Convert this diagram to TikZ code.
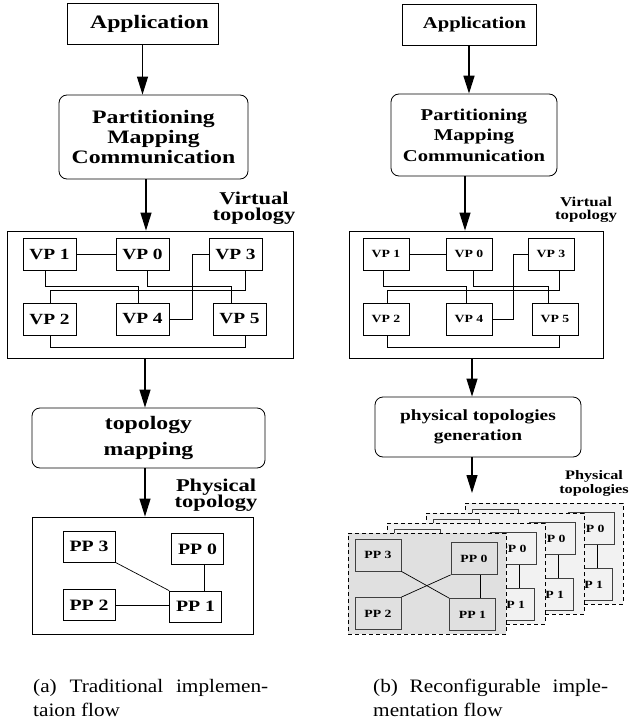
\documentclass[tikz,border=0pt]{standalone}
\usepackage{fontspec}
\setmainfont{Liberation Serif}
\newfontfamily\labfont{Liberation Serif}[FakeStretch=1.25]
\newfontfamily\capfont{Liberation Serif}[FakeStretch=1.12]
\usetikzlibrary{arrows.meta,calc}
\newcommand\lf[2]{\labfont\bfseries\fontsize{#1}{#2}\selectfont}
\newcommand\cf{\capfont\fontsize{19}{24}\selectfont}
\begin{document}
\begin{tikzpicture}[x=1pt,y=-1pt,
  box/.style={draw, line width=0.8pt, inner sep=0pt, align=center},
  rbox/.style={box, rounded corners=8pt},
  lbl/.style={inner sep=0pt, align=center},
  vpl/.style={box, minimum width=53pt, minimum height=32pt, font={\lf{15.5}{16}}},
  vpr/.style={box, minimum width=46pt, minimum height=32pt, font={\lf{11}{12}}},
  ppl/.style={box, minimum width=52pt, minimum height=31pt, font={\lf{15.8}{16}}},
  pps/.style={box, draw=black!75, minimum width=46pt, minimum height=32pt, font={\lf{11}{12}}},
  layer/.style={draw, line width=0.8pt, dash pattern=on 4pt off 3pt, inner sep=0pt, minimum width=158pt, minimum height=101pt},
  ln/.style={line width=0.7pt},
  arr/.style={-{Triangle[length=18pt,width=11pt]}, line width=1.1pt},
  capn/.style={inner sep=0pt, text width=235pt, align=justify, font=\cf, anchor=north west}
]
\useasboundingbox (0,0) rectangle (630,725);

% ---------------- left column ----------------
\node[box, minimum width=151pt, minimum height=41pt, font={\lf{19}{20}}] (appL) at (142.5,23.5) {\hspace*{14pt}Application};
\node[rbox, minimum width=189pt, minimum height=84pt, font={\lf{19}{20}}] (partL) at (153.5,137) {Partitioning\\Mapping\\Communication};
\node[box, minimum width=286pt, minimum height=127pt] (vbL) at (150,294.5) {};
\node[lbl, font={\lf{18}{16.5}}] (vtL) at (254,208) {Virtual\\topology};

\node[vpl] (vpL1) at (49.5,254) {VP 1};
\node[vpl] (vpL0) at (142.5,254) {VP 0};
\node[vpl] (vpL3) at (235.5,254) {VP 3};
\node[vpl] (vpL2) at (49.5,319) {VP 2};
\node[vpl] (vpL4) at (142.5,319) {VP 4};
\node[vpl] (vpL5) at (239.5,319) {VP 5};

\draw[ln] (vpL1) -- (vpL0);
\draw[ln] ([xshift=-4.5pt]vpL1.south) -- ++(0,16) -| ([xshift=-4.5pt]vpL4.north);
\draw[ln] ([xshift=4.5pt]vpL0.south) -- ++(0,16) -| ([xshift=-8pt]vpL5.north);
\draw[ln] ([xshift=0.5pt]vpL2.north) -- ++(0,-12) -| ([xshift=9.5pt]vpL3.south);
\draw[ln] (vpL4.east) -- ++(23,0) |- (vpL3.west);
\draw[ln] ([xshift=0.5pt]vpL2.south) -- ++(0,12) -| ([xshift=5.5pt]vpL5.south);

\node[rbox, minimum width=233pt, minimum height=60pt, font={\lf{19}{26}}] (tmL) at (148.5,438) {topology\\mapping};
\node[lbl, font={\lf{18}{16.5}}] (ptL) at (216,495) {Physical\\topology};
\node[box, minimum width=221pt, minimum height=117pt] (pbL) at (142.5,575.5) {};

\node[ppl] (ppL3) at (89,546.5) {PP 3};
\node[ppl] (ppL0) at (197.5,549) {PP 0};
\node[ppl] (ppL2) at (89,605) {PP 2};
\node[ppl] (ppL1) at (195.5,606.5) {PP 1};
\draw[ln] (ppL3.south east) -- (ppL1.north west);
\draw[ln] ([xshift=6.5pt]ppL0.south) -- ([xshift=6.5pt]ppL0.south |- ppL1.north);
\draw[ln] (ppL2.east) -- (ppL2.east -| ppL1.west);

\draw[arr] (appL.south) -- (appL.south |- partL.north);
\draw[arr] ([xshift=-7.5pt]partL.south) -- ([xshift=-7.5pt]partL.south |- vbL.north);
\draw[arr] ([xshift=-5pt]vbL.south) -- ([xshift=-5pt]vbL.south |- tmL.north);
\draw[arr] ([xshift=-3.5pt]tmL.south) -- ([xshift=-3.5pt]tmL.south |- pbL.north);

\node[capn] (capL) at (33,679) {(a) Traditional implemen-\linebreak taion flow};

% ---------------- right column ----------------
\node[box, minimum width=134pt, minimum height=41pt, font={\lf{16.5}{20}}] (appR) at (469,24.5) {\hspace*{11pt}Application};
\node[rbox, minimum width=166pt, minimum height=82pt, font={\lf{16.5}{20.5}}] (partR) at (474,135) {Partitioning\\Mapping\\Communication};
\node[box, minimum width=254pt, minimum height=127pt] (vbR) at (476,294.5) {};
\node[lbl, font={\lf{13.5}{13.5}}] (vtR) at (586,210) {Virtual\\topology};

\node[vpr] (vpR1) at (386,254) {VP 1};
\node[vpr] (vpR0) at (469,254) {VP 0};
\node[vpr] (vpR3) at (551,254) {VP 3};
\node[vpr] (vpR2) at (386,319) {VP 2};
\node[vpr] (vpR4) at (469,319) {VP 4};
\node[vpr] (vpR5) at (555,319) {VP 5};

\draw[ln] (vpR1) -- (vpR0);
\draw[ln] ([xshift=-3pt]vpR1.south) -- ++(0,16) -| ([xshift=-3pt]vpR4.north);
\draw[ln] ([xshift=4pt]vpR0.south) -- ++(0,16) -| ([xshift=-7pt]vpR5.north);
\draw[ln] ([xshift=1pt]vpR2.north) -- ++(0,-12) -| ([xshift=8pt]vpR3.south);
\draw[ln] (vpR4.east) -- ++(21,0) |- (vpR3.west);
\draw[ln] ([xshift=1pt]vpR2.south) -- ++(0,12) -| ([xshift=4pt]vpR5.south);

\node[rbox, minimum width=206pt, minimum height=60pt, font={\lf{15.5}{20}}] (pgR) at (478,427) {physical topologies\\generation};
\node[lbl, font={\lf{13}{14}}] (ptR) at (594,483) {Physical\\topologies};
\coordinate (endR) at (472,493);

\foreach \k/\c in {3/black!5,2/black!5,1/black!5,0/black!12} {
  \begin{scope}[shift={(39*\k,-10*\k)}]
    \node[layer, fill=\c] (ly\k) at (427,583.5) {};
    \node[pps, fill=\c] (pa\k) at (378,555) {PP 3};
    \node[pps, fill=\c] (pb\k) at (474,558.5) {PP 0};
    \node[pps, fill=\c] (pc\k) at (378,613.5) {PP 2};
    \node[pps, fill=\c] (pd\k) at (472.5,614.5) {PP 1};
    \draw[ln] (pa\k.south east) -- (pd\k.north west);
    \draw[ln] (pc\k.north east) -- (pb\k.south west);
    \draw[ln] ([xshift=6pt]pb\k.south) -- ([xshift=6pt]pb\k.south |- pd\k.north);
  \end{scope}
}

\draw[arr, line width=1.6pt] (appR.south) -- (appR.south |- partR.north);
\draw[arr] ([xshift=-9pt]partR.south) -- ([xshift=-9pt]partR.south |- vbR.north);
\draw[arr] ([xshift=-4pt]vbR.south) -- ([xshift=-4pt]vbR.south |- pgR.north);
\draw[arr] ([xshift=-6pt]pgR.south) -- (endR);

\node[capn] (capR) at (373,679) {(b) Reconfigurable imple-\linebreak mentation flow};
\end{tikzpicture}
\end{document}
